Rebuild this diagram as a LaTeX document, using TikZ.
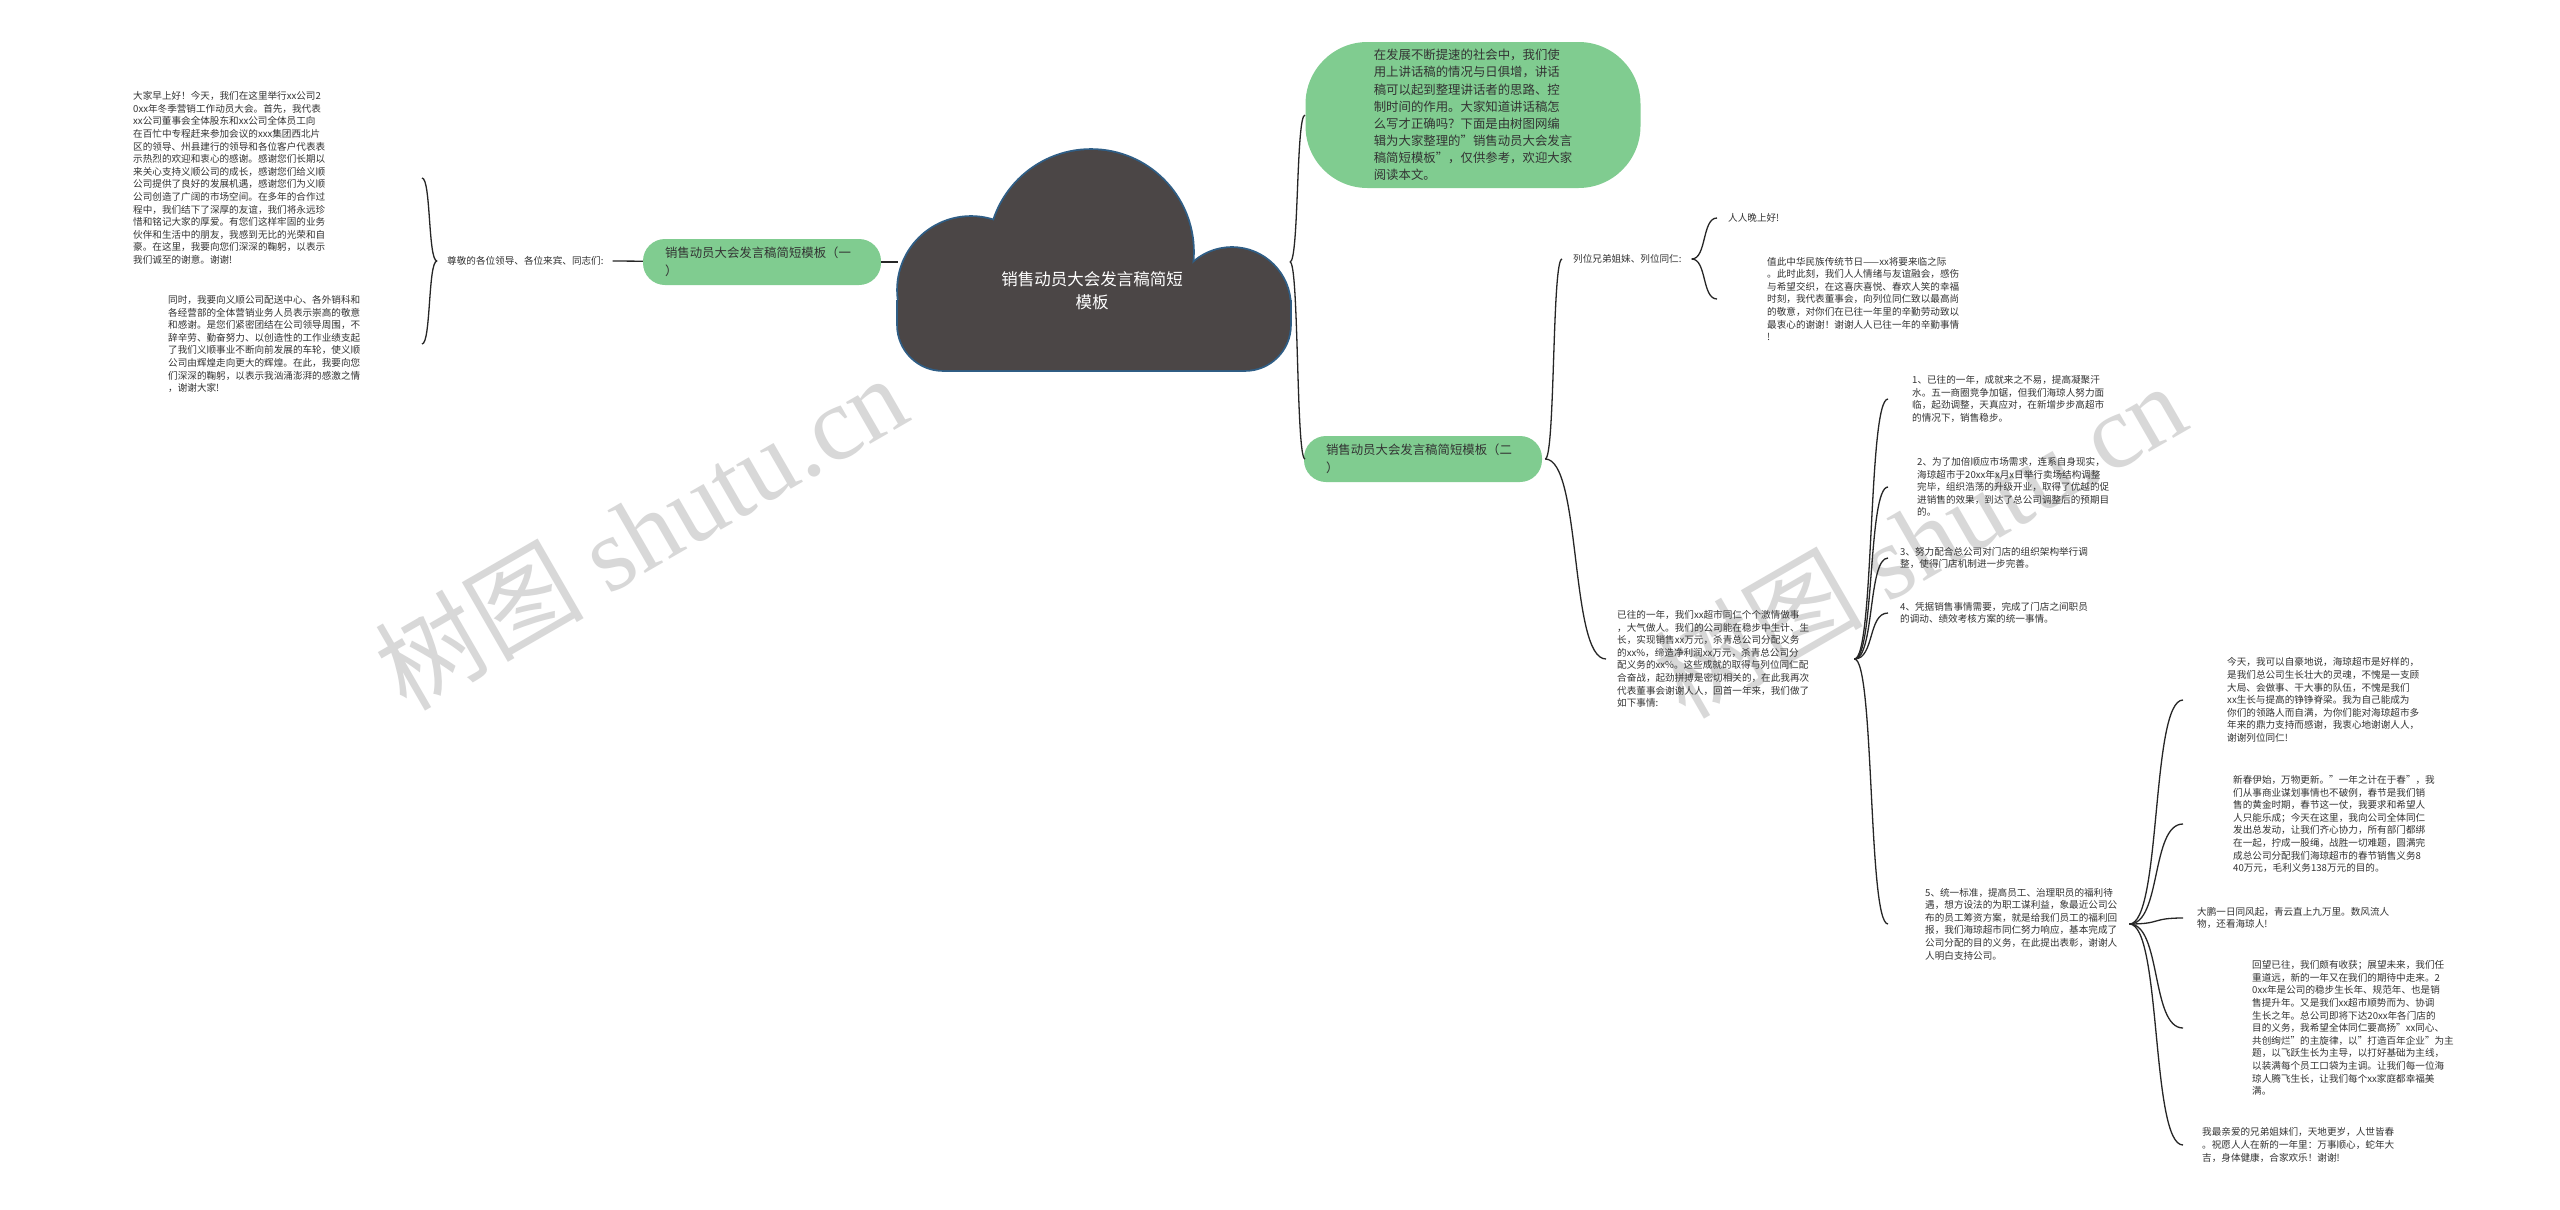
\documentclass[tikz,border=0pt]{standalone}
\usepackage{fontspec}
\setmainfont{Noto Sans CJK SC}
\newfontfamily\wmfont{Liberation Serif}
\usetikzlibrary{calc,positioning}
\definecolor{mindgreen}{HTML}{80CC90}
\definecolor{clouddark}{HTML}{4B4646}
\definecolor{cloudedge}{HTML}{2F5E86}
\definecolor{inktext}{HTML}{333333}
\definecolor{wmgray}{HTML}{D8D8D8}

\begin{document}
\begin{tikzpicture}[x=1pt,y=-1pt,
  every node/.style={inner sep=0pt,text=inktext},
  leaf/.style={anchor=west,align=left,font=\fontsize{9.6}{12.6}\selectfont},
  gnode/.style={fill=mindgreen,rounded corners=22pt,minimum height=46pt,
    inner xsep=22pt,text width=194pt,align=left,font=\fontsize{12.4}{17.5}\selectfont},
  wm/.style={rotate=30,text=wmgray,font=\fontsize{105}{110}\selectfont},
  arm/.style={draw=black!85,line width=1.3pt},
  cloudpart/.style={line width=3.6pt,draw=cloudedge}]
\useasboundingbox (0,0) rectangle (2560,1210);
\fill[white] (0,0) rectangle (2560,1210);

% watermark
\node[wm] (wmL) at (640,531) {树图 {\wmfont shutu.cn}};
\node[wm] (wmR) at (1919,539) {树图 {\wmfont shutu.cn}};

% central cloud
\foreach \c/\r in {{(1091,252)}/102,{(971,290)}/73,{(1232,306)}/58}
  \draw[cloudpart] \c circle (\r);
\draw[cloudpart,rounded corners=45pt] (1290,300) -- (1290,370) -- (898,370) -- (898,300);
\foreach \c/\r in {{(1091,252)}/102,{(971,290)}/73,{(1232,306)}/58}
  \fill[clouddark] \c circle (\r);
\fill[clouddark,rounded corners=45pt] (1290,300) -- (1290,370) -- (898,370) -- (898,300);
\node[text=white,align=center,font=\fontsize{16.5}{23}\selectfont] (cloudtxt) at (1092,291)
  {销售动员大会发言稿简短\\模板};
\coordinate (cloudW) at (898,262);
\coordinate (cloudE) at (1290,262);

% left side
\node[gnode] (g1) at (762,262) {销售动员大会发言稿简短模板（一\\）};
\node[leaf] (lbl1) at (447,261) {尊敬的各位领导、各位来宾、同志们:};
\node[leaf] (l1) at (133,178) {大家早上好！今天，我们在这里举行xx公司2\\
0xx年冬季营销工作动员大会。首先，我代表\\
xx公司董事会全体股东和xx公司全体员工向\\
在百忙中专程赶来参加会议的xxx集团西北片\\
区的领导、州县建行的领导和各位客户代表表\\
示热烈的欢迎和衷心的感谢。感谢您们长期以\\
来关心支持义顺公司的成长，感谢您们给义顺\\
公司提供了良好的发展机遇，感谢您们为义顺\\
公司创造了广阔的市场空间。在多年的合作过\\
程中，我们结下了深厚的友谊，我们将永远珍\\
惜和铭记大家的厚爱。有您们这样牢固的业务\\
伙伴和生活中的朋友，我感到无比的光荣和自\\
豪。在这里，我要向您们深深的鞠躬，以表示\\
我们诚至的谢意。谢谢!};
\node[leaf] (l2) at (168,344) {同时，我要向义顺公司配送中心、各外销科和\\
各经营部的全体营销业务人员表示崇高的敬意\\
和感谢。是您们紧密团结在公司领导周围，不\\
辞辛劳、勤奋努力、以创造性的工作业绩支起\\
了我们义顺事业不断向前发展的车轮，使义顺\\
公司由辉煌走向更大的辉煌。在此，我要向您\\
们深深的鞠躬，以表示我汹涌澎湃的感激之情\\
，谢谢大家!};

% right side
\node[fill=mindgreen,rounded corners=62pt,minimum width=335pt,minimum height=146pt,
  align=left,font=\fontsize{12.4}{17.1}\selectfont] (intro) at (1473,115)
  {在发展不断提速的社会中，我们使\\
用上讲话稿的情况与日俱增，讲话\\
稿可以起到整理讲话者的思路、控\\
制时间的作用。大家知道讲话稿怎\\
么写才正确吗？下面是由树图网编\\
辑为大家整理的"销售动员大会发言\\
稿简短模板"，仅供参考，欢迎大家\\
阅读本文。};
\node[gnode] (g2) at (1423,459) {销售动员大会发言稿简短模板（二\\）};
\node[leaf] (lie) at (1573,259) {列位兄弟姐妹、列位同仁:};
\node[leaf] (hi) at (1728,218) {人人晚上好!};
\node[leaf] (zhi) at (1767,299) {值此中华民族传统节日——xx将要来临之际\\
。此时此刻，我们人人情绪与友谊融会，感伤\\
与希望交织，在这喜庆喜悦、春欢人笑的幸福\\
时刻，我代表董事会，向列位同仁致以最高尚\\
的敬意，对你们在已往一年里的辛勤劳动致以\\
最衷心的谢谢！谢谢人人已往一年的辛勤事情\\
!};
\node[leaf] (yiw) at (1617,659) {已往的一年，我们xx超市同仁个个激情做事\\
，大气做人。我们的公司能在稳步中生计、生\\
长，实现销售xx万元，杀青总公司分配义务\\
的xx\%，缔造净利润xx万元，杀青总公司分\\
配义务的xx\%。这些成就的取得与列位同仁配\\
合奋战，起劲拼搏是密切相关的，在此我再次\\
代表董事会谢谢人人，回首一年来，我们做了\\
如下事情:};
\node[leaf] (i1) at (1912,399) {1、已往的一年，成就来之不易，提高凝聚汗\\
水。五一商圈竞争加锯，但我们海琼人努力面\\
临，起劲调整，天真应对，在新增步步高超市\\
的情况下，销售稳步。};
\node[leaf] (i2) at (1917,487) {2、为了加倍顺应市场需求，连系自身现实，\\
海琼超市于20xx年x月x日举行卖场结构调整\\
完毕，组织浩荡的升级开业，取得了优越的促\\
进销售的效果，到达了总公司调整后的预期目\\
的。};
\node[leaf] (i3) at (1900,558) {3、努力配合总公司对门店的组织架构举行调\\
整，使得门店机制进一步完善。};
\node[leaf] (i4) at (1900,613) {4、凭据销售事情需要，完成了门店之间职员\\
的调动、绩效考核方案的统一事情。};
\node[leaf] (i5) at (1925,924) {5、统一标准，提高员工、治理职员的福利待\\
遇，想方设法的为职工谋利益，象最近公司公\\
布的员工筹资方案，就是给我们员工的福利回\\
报，我们海琼超市同仁努力响应，基本完成了\\
公司分配的目的义务，在此提出表彰，谢谢人\\
人明白支持公司。};
\node[leaf] (d1) at (2227,700) {今天，我可以自豪地说，海琼超市是好样的，\\
是我们总公司生长壮大的灵魂，不愧是一支顾\\
大局、会做事、干大事的队伍，不愧是我们\\
xx生长与提高的铮铮脊梁。我为自己能成为\\
你们的领路人而自满，为你们能对海琼超市多\\
年来的鼎力支持而感谢，我衷心地谢谢人人，\\
谢谢列位同仁!};
\node[leaf] (d2) at (2233,824) {新春伊始，万物更新。"一年之计在于春"，我\\
们从事商业谋划事情也不破例，春节是我们销\\
售的黄金时期，春节这一仗，我要求和希望人\\
人只能乐成；今天在这里，我向公司全体同仁\\
发出总发动，让我们齐心协力，所有部门都绑\\
在一起，拧成一股绳，战胜一切难题，圆满完\\
成总公司分配我们海琼超市的春节销售义务8\\
40万元，毛利义务138万元的目的。};
\node[leaf] (d3) at (2197,918) {大鹏一日同风起，青云直上九万里。数风流人\\
物，还看海琼人!};
\node[leaf] (d4) at (2252,1028) {回望已往，我们颇有收获；展望未来，我们任\\
重道远，新的一年又在我们的期待中走来。2\\
0xx年是公司的稳步生长年、规范年、也是销\\
售提升年。又是我们xx超市顺势而为、协调\\
生长之年。总公司即将下达20xx年各门店的\\
目的义务，我希望全体同仁要高扬"xx同心、\\
共创绚烂"的主旋律，以"打造百年企业"为主\\
题，以飞跃生长为主导，以打好基础为主线，\\
以装满每个员工口袋为主调。让我们每一位海\\
琼人腾飞生长，让我们每个xx家庭都幸福美\\
满。};
\node[leaf] (d5) at (2202,1145) {我最亲爱的兄弟姐妹们，天地更岁，人世皆春\\
。祝愿人人在新的一年里：万事顺心，蛇年大\\
吉，身体健康，合家欢乐！谢谢!};

% connectors
\draw[arm] (g1) -- (cloudW);
\draw[arm] ($(lbl1.east)+(9,0)$) -- (g1);
\coordinate (tipL) at ($(lbl1.west)+(-10,0)$);
\coordinate (tipG) at ($(g2.east)+(3,0)$);
\coordinate (tipR) at ($(lie.east)+(10,0)$);
\coordinate (tipY) at ($(yiw.east)+(45,0)$);
\coordinate (tipF) at ($(i5.east)+(12,0)$);
\coordinate (xL) at (422,0);
\coordinate (xC) at (1305,0);
\coordinate (xG1) at (1562,0);
\coordinate (xG2) at (1606,0);
\coordinate (xR) at (1717,0);
\coordinate (xY) at (1888,0);
\coordinate (xF) at (2183,0);
\foreach \t/\e/\x in {tipL/l1/xL,tipL/l2/xL,cloudE/intro/xC,cloudE/g2/xC,
    tipG/lie/xG1,tipG/yiw/xG2,tipR/hi/xR,tipR/zhi/xR,
    tipY/i1/xY,tipY/i2/xY,tipY/i3/xY,tipY/i4/xY,tipY/i5/xY,
    tipF/d1/xF,tipF/d2/xF,tipF/d3/xF,tipF/d4/xF,tipF/d5/xF}
  \draw[arm] (\t) .. controls ($(\t)!.6!(\x |- \t)$) and ($(\x |- \e)!.6!(\t |- \e)$) .. (\x |- \e);
\end{tikzpicture}
\end{document}
